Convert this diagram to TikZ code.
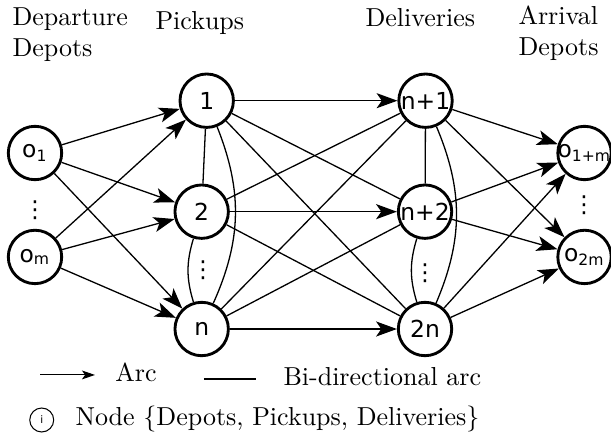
\documentclass[tikz,border=0pt]{standalone}
\usepackage{fontspec}
\setsansfont{DejaVu Sans}
\usepackage{tikz}
\usetikzlibrary{arrows.meta}

\newcommand{\olab}[1]{\makebox[0pt]{o\textsubscript{#1}}}

\tikzset{
  vtx/.style={draw, circle, line width=1.1pt, minimum size=0.722cm, inner sep=0pt, font=\sffamily\fontsize{9}{10}\selectfont},
  arc/.style={-{Stealth[length=8pt,width=5.8pt,inset=2pt]}, line width=0.5pt},
  bidi/.style={line width=0.5pt},
  hdr/.style={anchor=base west, inner sep=0pt, align=left},
  vdot/.style={inner sep=0pt, font=\sffamily\fontsize{9}{10}\selectfont}
}

\begin{document}
\begin{tikzpicture}
\useasboundingbox (0,0) rectangle (8.259,5.893);

% headers (two-line ones sit on their last line)
\node [hdr] (hdep) at (0.162,5.123) {Departure\\Depots};
\node [hdr] (hpick) at (2.095,5.488) {Pickups};
\node [hdr] (hdel) at (4.934,5.529) {Deliveries};
\node [hdr] (harr) at (7.002,5.137) {Arrival\\Depots};

% nodes
\node [vtx] (o1) at (0.473,3.825) {\olab{1}};
\node [vtx] (om) at (0.473,2.420) {\olab{m}};
\node [vtx] (p1) at (2.794,4.532) {1};
\node [vtx] (p2) at (2.726,3.032) {2};
\node [vtx] (pn) at (2.726,1.446) {n};
\node [vtx] (dn1) at (5.752,4.532) {n+1};
\node [vtx] (dn2) at (5.745,3.032) {n+2};
\node [vtx] (d2n) at (5.745,1.446) {2n};
\node [vtx] (o1m) at (7.901,3.825) {\olab{1+m}};
\node [vtx] (o2m) at (7.901,2.420) {\olab{2m}};

\node [vdot] (vo) at (0.473,3.054) {⋮};
\node [vdot] (vp) at (2.744,2.244) {⋮};
\node [vdot] (vd) at (5.745,2.203) {⋮};
\node [vdot] (va) at (7.894,3.122) {⋮};

% departure -> pickups
\path [arc] (o1) edge (p1);
\path [arc] (o1) edge (p2);
\path [arc] (o1) edge (pn);
\path [arc] (om) edge (p1);
\path [arc] (om) edge (p2);
\path [arc] (om) edge (pn);

% pickups
\path [bidi] (p1) edge (p2);
\path [bidi] (p1) edge [bend left=23] (pn);
\path [bidi] (p2) edge [bend right=17] (pn);

% pickups -> deliveries
\path [arc] (p1) edge (dn1);
\path [arc] (p2) edge (dn2);
\path [arc] (pn) edge (d2n);
\path [bidi] (p1) edge (dn2);
\path [bidi] (p1) edge (d2n);
\path [bidi] (p2) edge (dn1);
\path [bidi] (p2) edge (d2n);
\path [bidi] (pn) edge (dn1);
\path [bidi] (pn) edge (dn2);

% deliveries
\path [bidi] (dn1) edge (dn2);
\path [bidi] (dn1) edge [bend left=23] (d2n);
\path [bidi] (dn2) edge [bend right=17] (d2n);

% deliveries -> arrival
\path [arc] (dn1) edge (o1m);
\path [arc] (dn1) edge (o2m);
\path [arc] (dn2) edge (o1m);
\path [arc] (dn2) edge (o2m);
\path [arc] (d2n) edge (o1m);
\path [arc] (d2n) edge (o2m);

% legend
\coordinate (la) at (0.541,0.825);
\coordinate (lb) at (1.284,0.825);
\draw [-{Stealth[length=5pt,width=3.4pt,inset=1.2pt]}, line width=0.4pt] (la) -- (lb);
\node [hdr] (tarc) at (1.554,0.730) {Arc};
\coordinate (lc) at (2.757,0.770);
\coordinate (ld) at (3.460,0.770);
\draw [line width=0.8pt] (lc) -- (ld);
\node [hdr] (tbidi) at (3.825,0.689) {Bi-directional arc};
\node [draw, circle, line width=0.4pt, minimum size=0.324cm, inner sep=0pt, font=\sffamily\fontsize{4}{5}\selectfont] (li) at (0.564,0.216) {i};
\node [hdr] (tnode) at (1.014,0.135) {Node \{Depots, Pickups, Deliveries\}};
\end{tikzpicture}
\end{document}
